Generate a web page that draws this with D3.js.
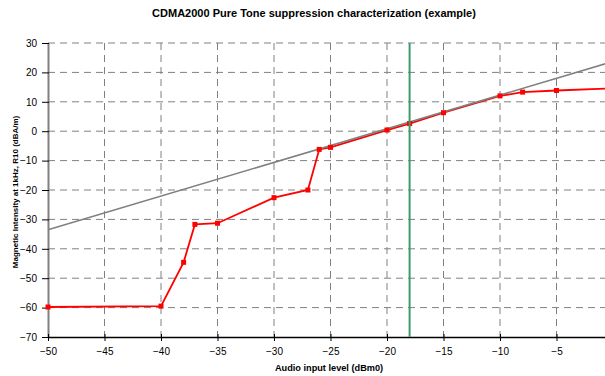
<!DOCTYPE html>
<html><head><meta charset="utf-8">
<script src="https://cdn.jsdelivr.net/npm/d3@7"></script>
<style>body{margin:0;background:#fff;}svg{display:block;font-family:"Liberation Sans",Arial,sans-serif;}</style>
</head><body><svg id="c" width="605" height="376"></svg>
<script>
const title = "CDMA2000 Pure Tone suppression characterization (example)";
const xLabel = "Audio input level (dBm0)";
const yLabel = "Magnetic Intensity at 1kHz, R10 (dBA/m)";
const xTicks = [-50,-45,-40,-35,-30,-25,-20,-15,-10,-5];
const yTicks = [30,20,10,0,-10,-20,-30,-40,-50,-60,-70];
const measX = [-50,-40,-38,-37,-35,-30,-27,-26,-25,-20,-18,-15,-10,-8,-5,0];
const measY = [-59.8,-59.5,-44.6,-31.7,-31.3,-22.6,-20.0,-6.2,-5.5,0.4,2.6,6.3,12.0,13.3,13.85,14.6];
const refX = [-50,0];
const refY = [-33.5,23.7];
const markerX = -18;

const svg = d3.select("#c");
const L=48, T=43, B=337, R=613;
const x = d3.scaleLinear().domain([-50,0]).range([L,R]);
const y = d3.scaleLinear().domain([-70,30]).range([B,T]);

svg.append("text").attr("x",314).attr("y",17).attr("text-anchor","middle")
  .attr("font-size",11).attr("font-weight","bold").text(title);

// grid
const g = svg.append("g");
g.selectAll(".hg").data(yTicks.filter(d=>d>-70)).join("line")
  .attr("x1",L).attr("x2",R).attr("y1",d=>y(d)).attr("y2",d=>y(d))
  .attr("stroke","#808080").attr("stroke-dasharray","7,5").attr("stroke-width",1);
g.selectAll(".vg").data(xTicks.filter(d=>d>-50)).join("line")
  .attr("x1",d=>x(d)).attr("x2",d=>x(d)).attr("y1",T).attr("y2",B)
  .attr("stroke","#808080").attr("stroke-dasharray","7,5").attr("stroke-width",1);

// axes
const ya = svg.append("g").attr("transform",`translate(${L},0)`)
  .call(d3.axisLeft(y).tickValues(yTicks).tickSize(6).tickSizeOuter(0));
ya.select(".domain").attr("stroke","#808080").attr("stroke-width",2);
ya.selectAll(".tick line").attr("stroke","#000").attr("x2",-6).attr("x1",1);
ya.selectAll(".tick text").attr("font-size",10).attr("font-family","Liberation Sans, Arial, sans-serif").attr("x",-11);

const xa = svg.append("g").attr("transform",`translate(0,${B})`)
  .call(d3.axisBottom(x).tickValues(xTicks).tickSize(4).tickSizeOuter(0));
xa.select(".domain").attr("stroke","#000").attr("stroke-width",1.5);
xa.selectAll(".tick line").attr("stroke","#000").attr("y1",-3).attr("y2",4);
xa.selectAll(".tick text").attr("font-size",10).attr("font-family","Liberation Sans, Arial, sans-serif").attr("dy","0.71em").attr("y",11);

// measured line
const meas = measX.map((d,i)=>[d,measY[i]]);
svg.append("path").datum(meas)
  .attr("d",d3.line().x(d=>x(d[0])).y(d=>y(d[1])))
  .attr("fill","none").attr("stroke","#ff0000").attr("stroke-width",1.8);

// reference line (drawn over the measured line)
const refData = refX.map((d,i)=>[d,refY[i]]);
svg.append("path").datum(refData)
  .attr("d",d3.line().x(d=>x(d[0])).y(d=>y(d[1])))
  .attr("fill","none").attr("stroke","#808080").attr("stroke-width",1.6);

svg.selectAll(".m").data(meas).join("rect")
  .attr("x",d=>x(d[0])-2.5).attr("y",d=>y(d[1])-2.5).attr("width",5).attr("height",5)
  .attr("fill","#ff0000");

// green marker
svg.append("line").attr("x1",x(markerX)).attr("x2",x(markerX)).attr("y1",y(30)).attr("y2",y(-70))
  .attr("stroke","#3c9a6c").attr("stroke-width",2);

svg.append("text").attr("x",329).attr("y",371).attr("text-anchor","middle")
  .attr("font-size",9.2).attr("font-weight","bold").text(xLabel);
svg.append("text").attr("transform","translate(18,192) rotate(-90)").attr("text-anchor","middle")
  .attr("font-size",8).attr("font-weight","bold").text(yLabel);
</script></body></html>
